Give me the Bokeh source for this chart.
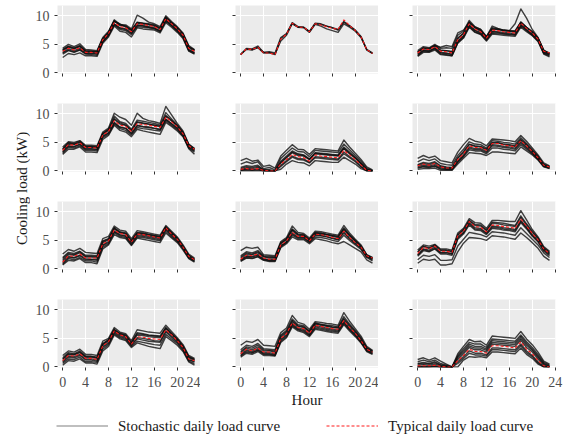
from bokeh.plotting import figure
from bokeh.layouts import row, column
from bokeh.models import Range1d, Label, Legend, LegendItem
from bokeh.embed import file_html
from bokeh.resources import INLINE
import math

hours = list(range(24))
x_ticks = [0, 4, 8, 12, 16, 20, 24]
y_ticks = [0, 5, 10]

# ---- row 1 ----
typ_r1c1 = [3.8,4.3,4.0,4.4,3.6,3.6,3.5,5.8,6.9,8.8,8.1,7.9,7.2,8.6,8.5,8.3,8.1,7.6,9.5,8.6,7.7,6.6,4.3,3.8]
sto_r1c1 = [
    [4.3,5.0,4.6,5.1,4.1,4.0,3.9,6.2,7.3,9.3,8.5,8.4,7.7,10.1,9.6,8.9,8.6,8.1,10.0,9.0,8.1,7.0,4.8,4.1],
    [4.1,4.7,4.4,4.8,3.9,3.8,3.7,6.0,7.1,9.1,8.3,8.2,7.5,8.9,8.7,8.6,8.4,7.9,9.8,8.8,7.9,6.8,4.6,4.0],
    [3.6,4.2,3.9,4.3,3.5,3.5,3.4,5.6,6.7,8.6,7.9,7.7,7.0,8.4,8.3,8.1,7.9,7.4,9.3,8.4,7.5,6.4,4.1,3.6],
    [3.3,3.9,3.6,4.0,3.3,3.2,3.1,5.4,6.5,8.4,7.6,7.4,6.7,8.1,8.0,7.9,7.7,7.2,9.1,8.2,7.3,6.2,3.9,3.4],
    [2.7,3.4,3.2,3.5,3.0,3.0,2.9,5.2,6.3,8.2,7.3,7.1,6.3,7.9,7.7,7.6,7.5,7.0,8.8,8.0,7.1,6.0,3.8,3.3],
    [3.9,4.5,4.2,4.6,3.7,3.7,3.6,5.9,7.0,9.0,8.6,8.0,7.3,8.7,8.6,8.4,8.2,7.7,9.6,8.7,7.8,6.7,4.4,3.9],
    [4.0,4.6,4.3,4.7,3.8,3.8,3.7,6.0,7.1,9.1,8.4,8.2,7.5,8.8,8.7,8.5,8.3,7.8,9.7,8.8,7.9,6.8,4.5,4.0],
    [3.5,4.0,3.7,4.1,3.4,3.4,3.3,5.5,6.6,8.5,7.8,7.6,6.9,8.3,8.2,8.0,7.8,7.3,9.2,8.3,7.4,6.3,4.0,3.5],
]
typ_r1c2 = [3.2,4.2,4.1,4.5,3.5,3.5,3.2,5.9,6.8,8.7,8.0,8.0,7.2,8.6,8.4,8.1,7.8,7.6,9.3,8.3,7.4,6.3,4.1,3.4]
sto_r1c2 = [
    [3.2,4.3,4.2,4.7,3.6,3.7,3.5,6.2,6.9,8.7,8.0,8.0,7.2,8.7,8.6,8.2,7.9,7.5,8.9,8.2,7.4,6.3,4.0,3.4],
    [3.2,4.2,4.0,4.5,3.6,3.6,3.3,5.6,6.6,8.6,8.0,7.9,7.1,8.5,8.2,7.7,7.4,7.1,8.6,8.0,7.3,6.2,4.1,3.4],
    [3.3,4.1,4.1,4.4,3.5,3.5,3.2,6.0,6.8,8.8,8.1,8.0,7.3,8.6,8.5,8.2,7.9,7.6,9.0,8.3,7.5,6.4,4.1,3.5],
]
typ_r1c3 = [3.5,4.2,4.1,4.6,3.8,3.7,3.5,5.8,6.7,8.6,7.7,7.2,6.1,7.5,7.4,7.2,7.1,7.0,8.7,7.8,7.0,5.9,3.8,3.5]
sto_r1c3 = [
    [3.6,4.4,4.3,4.8,4.5,4.8,4.6,7.0,7.5,8.9,8.0,7.6,6.3,8.2,7.8,7.5,7.4,8.6,11.2,9.6,7.6,6.2,4.0,3.4],
    [3.9,4.6,4.4,5.0,4.3,4.4,4.3,6.6,7.3,9.2,8.1,7.6,6.4,7.9,7.7,7.5,7.4,7.4,8.9,8.0,7.2,6.1,3.9,3.3],
    [3.3,4.0,3.9,4.4,3.6,3.5,3.3,5.6,6.5,8.4,7.5,7.1,6.0,7.3,7.2,7.1,7.0,6.8,8.5,7.6,6.8,5.8,3.6,3.2],
    [3.0,3.8,3.7,4.2,3.3,3.2,3.0,5.3,6.2,8.1,7.2,6.8,5.7,7.0,6.9,6.8,6.7,6.6,8.2,7.4,6.6,5.6,3.4,3.0],
    [2.9,3.6,3.6,4.0,3.2,3.1,3.0,5.2,6.1,8.0,7.1,6.7,5.6,6.8,6.7,6.6,6.5,6.4,8.0,7.2,6.5,5.5,3.3,2.8],
    [3.7,4.3,4.2,4.7,3.9,3.9,3.7,6.0,6.9,8.8,7.9,7.3,6.2,7.7,7.6,7.4,7.3,7.2,8.8,7.9,7.1,6.0,3.7,3.4],
    [3.6,4.3,4.2,4.8,4.0,3.9,3.7,6.1,7.0,8.8,7.9,7.4,6.3,7.7,7.6,7.4,7.3,7.2,8.9,8.0,7.2,6.1,3.9,3.5],
    [3.2,3.9,3.8,4.3,3.5,3.4,3.2,5.5,6.4,8.3,7.4,6.9,5.9,7.2,7.1,6.9,6.8,6.7,8.4,7.5,6.7,5.7,3.5,3.1],
]
# ---- row 2 ----
typ_r2c1 = [3.6,4.6,4.5,4.9,4.1,4.1,4.0,6.3,6.9,8.8,8.0,7.8,6.9,8.3,8.1,8.0,7.8,7.6,9.4,8.6,7.7,6.5,4.4,3.8]
sto_r2c1 = [
    [4.2,5.1,5.0,5.3,4.5,4.5,4.4,6.8,7.5,10.1,9.4,9.0,8.0,10.1,9.2,8.8,8.6,8.3,11.3,9.8,8.3,7.0,4.7,3.9],
    [3.9,5.0,4.8,5.2,4.3,4.3,4.2,6.6,7.3,9.6,8.6,8.3,7.3,8.9,8.7,8.5,8.3,8.0,10.2,9.1,8.0,6.8,4.6,3.9],
    [3.4,4.4,4.3,4.7,3.9,3.9,3.8,6.1,6.7,8.5,7.7,7.5,6.6,8.0,7.8,7.7,7.5,7.3,9.1,8.3,7.5,6.3,4.2,3.6],
    [3.1,4.1,4.0,4.4,3.6,3.6,3.5,5.8,6.4,8.2,7.4,7.1,6.3,7.6,7.4,7.3,7.1,7.0,8.8,8.0,7.2,6.1,4.0,3.3],
    [2.9,3.8,3.8,4.2,3.3,3.3,3.2,5.5,6.2,8.0,7.1,6.8,6.0,7.3,7.0,6.8,6.6,6.4,8.5,7.8,7.0,6.0,3.9,2.9],
    [3.8,4.8,4.7,5.0,4.2,4.2,4.1,6.4,7.1,9.2,8.4,8.0,7.0,8.6,8.4,8.2,8.0,7.8,9.7,8.8,7.8,6.6,4.5,3.7],
    [3.7,4.7,4.6,5.0,4.2,4.2,4.1,6.5,7.2,9.0,8.2,8.0,7.1,8.5,8.3,8.2,8.0,7.8,9.6,8.8,7.9,6.7,4.5,3.8],
    [3.3,4.3,4.2,4.6,3.8,3.8,3.7,6.0,6.6,8.4,7.6,7.4,6.5,7.9,7.7,7.6,7.4,7.2,9.0,8.2,7.4,6.2,4.1,3.5],
]
typ_r2c2 = [0.3,0.4,0.3,0.4,0.1,0.0,0.0,1.2,2.0,2.9,2.5,2.3,1.7,2.8,2.6,2.5,2.4,2.3,3.6,2.8,2.0,1.0,0.1,0.0]
sto_r2c2 = [
    [1.8,2.2,1.7,1.9,0.8,1.0,0.5,2.6,3.6,4.6,3.8,3.7,2.9,3.9,3.8,3.7,3.6,3.5,5.4,4.2,3.1,2.0,0.7,0.2],
    [1.2,1.6,1.3,1.6,0.4,0.6,0.2,2.2,3.1,4.0,3.4,3.3,2.5,3.6,3.5,3.4,3.3,3.2,4.7,3.7,2.7,1.7,0.5,0.1],
    [0.6,0.9,0.8,1.0,0.2,0.2,0.0,1.7,2.6,3.5,3.0,2.8,2.1,3.2,3.1,3.0,2.9,2.8,4.2,3.3,2.4,1.4,0.3,0.0],
    [0.1,0.2,0.1,0.2,0.0,0.0,0.0,0.8,1.6,2.4,2.0,1.9,1.4,2.3,2.2,2.1,2.0,1.9,3.0,2.3,1.6,0.7,0.0,0.0],
    [0.0,0.0,0.0,0.0,0.0,0.0,0.0,0.3,1.2,1.8,1.5,1.4,0.9,1.8,1.7,1.6,1.5,1.5,2.4,1.8,1.2,0.4,0.0,0.0],
    [0.2,0.5,0.4,0.6,0.1,0.0,0.0,1.4,2.3,3.2,2.7,2.6,2.0,3.0,2.9,2.8,2.7,2.6,3.9,3.0,2.2,1.2,0.2,0.0],
    [0.4,0.7,0.6,0.8,0.2,0.1,0.0,1.5,2.4,3.3,2.9,2.7,2.0,3.1,3.0,2.9,2.8,2.7,4.0,3.1,2.3,1.3,0.2,0.0],
    [0.1,0.3,0.2,0.3,0.0,0.0,0.0,1.0,1.8,2.6,2.2,2.1,1.5,2.5,2.4,2.3,2.2,2.1,3.3,2.5,1.8,0.8,0.0,0.0],
]
typ_r2c3 = [0.9,1.2,1.0,1.3,0.7,0.5,0.5,2.0,3.0,4.4,4.1,4.1,3.6,4.8,4.8,4.5,4.4,4.2,5.3,4.4,3.4,2.3,1.0,0.7]
sto_r2c3 = [
    [2.2,2.7,2.3,2.6,1.8,1.6,1.4,3.3,4.6,5.7,5.2,5.0,4.4,5.6,5.5,5.4,5.3,5.1,6.2,5.2,4.0,2.8,1.4,0.9],
    [1.6,2.1,1.8,2.1,1.3,1.1,1.0,2.7,3.8,5.1,4.7,4.6,4.0,5.3,5.2,5.0,4.9,4.7,5.8,4.8,3.7,2.6,1.2,0.8],
    [1.1,1.5,1.3,1.6,0.9,0.7,0.6,2.3,3.4,4.7,4.4,4.3,3.8,5.0,5.0,4.7,4.6,4.4,5.5,4.6,3.5,2.4,1.1,0.7],
    [0.6,0.8,0.7,0.9,0.4,0.3,0.3,1.6,2.6,4.0,3.7,3.7,3.2,4.4,4.3,4.1,4.0,3.8,4.9,4.0,3.1,2.1,0.8,0.5],
    [0.3,0.4,0.4,0.5,0.1,0.1,0.1,1.2,2.2,3.2,3.1,3.0,2.7,3.3,3.3,3.2,3.1,3.0,4.2,3.5,2.8,1.9,0.7,0.4],
    [0.8,1.0,0.9,1.1,0.6,0.4,0.4,1.8,2.8,4.2,3.9,3.9,3.4,4.6,4.5,4.3,4.2,4.0,5.1,4.2,3.3,2.2,0.9,0.6],
    [1.0,1.3,1.1,1.4,0.8,0.6,0.5,2.2,3.2,4.6,4.3,4.2,3.7,4.9,4.9,4.6,4.5,4.3,5.4,4.5,3.5,2.4,1.0,0.7],
    [0.5,0.7,0.6,0.8,0.3,0.2,0.2,1.5,2.5,3.7,3.5,3.5,3.0,4.0,4.0,3.8,3.7,3.5,4.6,3.8,3.0,2.0,0.8,0.5],
]
# ---- row 3 ----
typ_r3c1 = [1.2,2.3,2.2,2.6,1.9,1.9,1.9,4.4,4.9,6.8,6.2,6.0,4.7,6.1,6.0,5.8,5.6,5.4,7.2,6.1,5.2,3.8,2.2,1.6]
sto_r3c1 = [
    [2.6,3.4,3.1,3.6,2.9,2.8,2.7,5.3,5.7,7.5,6.8,6.6,5.3,6.7,6.5,6.3,6.1,5.9,7.6,6.6,5.6,4.2,2.6,1.9],
    [2.0,2.9,2.7,3.1,2.4,2.4,2.3,4.9,5.3,7.2,6.5,6.3,5.0,6.4,6.3,6.1,5.9,5.7,7.4,6.4,5.4,4.0,2.4,1.7],
    [1.5,2.5,2.4,2.8,2.1,2.1,2.0,4.6,5.1,7.0,6.3,6.1,4.8,6.2,6.1,5.9,5.7,5.5,7.3,6.2,5.3,3.9,2.3,1.6],
    [1.0,2.0,1.9,2.3,1.6,1.6,1.5,4.1,4.6,6.5,5.9,5.7,4.4,5.8,5.7,5.5,5.3,5.1,6.9,5.8,4.9,3.6,2.0,1.4],
    [0.7,1.5,1.4,1.8,1.1,1.1,0.9,3.5,4.2,6.0,5.5,5.3,4.1,5.4,5.2,5.0,4.8,4.6,6.3,5.4,4.6,3.3,1.8,1.2],
    [1.3,2.2,2.0,2.4,1.8,1.7,1.7,4.2,4.8,6.6,6.0,5.8,4.6,6.0,5.9,5.7,5.5,5.3,7.0,6.0,5.1,3.7,2.1,1.5],
    [1.8,2.7,2.5,3.0,2.2,2.2,2.2,4.8,5.2,7.1,6.4,6.2,4.9,6.3,6.2,6.0,5.8,5.6,7.3,6.3,5.3,3.9,2.3,1.7],
    [0.8,1.8,1.6,2.0,1.4,1.4,1.2,3.8,4.4,6.3,5.7,5.5,4.2,5.6,5.5,5.3,5.1,4.9,6.6,5.6,4.8,3.5,1.9,1.3],
]
typ_r3c2 = [1.7,2.4,2.3,2.6,1.9,1.7,1.7,4.2,4.9,6.4,5.7,5.7,4.9,6.1,6.0,5.8,5.5,5.3,6.6,5.5,4.6,3.8,2.3,1.9]
sto_r3c2 = [
    [3.2,3.8,3.6,3.8,2.5,2.4,2.3,4.8,5.5,7.5,6.4,6.2,5.4,6.6,6.5,6.3,6.1,5.9,7.6,6.3,5.2,4.2,2.5,2.0],
    [2.3,3.0,2.8,3.2,2.3,2.2,2.1,4.6,5.3,7.0,6.1,6.0,5.2,6.4,6.3,6.1,5.9,5.7,7.2,6.0,5.0,4.0,2.4,1.9],
    [1.9,2.6,2.5,2.8,2.1,1.9,1.9,4.4,5.1,6.7,5.9,5.8,5.0,6.2,6.1,6.0,5.7,5.5,6.9,5.8,4.8,3.9,2.3,1.8],
    [1.5,2.2,2.1,2.4,1.7,1.5,1.5,4.0,4.7,6.1,5.5,5.5,4.7,5.9,5.8,5.6,5.3,5.1,6.3,5.3,4.4,3.6,2.1,1.6],
    [1.3,1.9,1.8,2.1,1.5,1.3,1.3,3.7,4.4,5.6,5.1,5.1,4.4,5.3,5.1,4.9,4.6,4.4,4.8,4.2,3.6,3.0,1.6,1.0],
    [1.6,2.3,2.2,2.5,1.8,1.6,1.6,4.1,4.8,6.3,5.6,5.6,4.8,6.0,5.9,5.7,5.4,5.2,6.5,5.4,4.5,3.7,2.2,1.7],
    [2.1,2.8,2.6,3.0,2.2,2.0,2.0,4.5,5.2,6.9,6.0,5.9,5.1,6.3,6.2,6.0,5.8,5.6,7.0,5.9,4.9,3.9,2.4,1.9],
    [1.4,2.0,1.9,2.2,1.6,1.4,1.4,3.9,4.6,5.9,5.3,5.3,4.6,5.6,5.5,5.3,5.0,4.8,5.9,5.0,4.2,3.4,2.0,1.4],
]
typ_r3c3 = [2.7,3.8,3.5,4.0,3.1,3.1,2.9,5.8,6.6,8.3,7.4,7.3,6.5,7.7,7.6,7.4,7.3,7.1,8.7,7.5,6.2,5.1,3.5,2.7]
sto_r3c3 = [
    [3.3,4.2,4.0,4.3,3.5,3.5,3.3,6.3,7.1,8.8,8.1,8.0,7.1,8.5,8.5,8.4,8.3,8.3,10.2,8.6,6.9,5.6,3.9,3.1],
    [3.0,4.0,3.7,4.2,3.3,3.3,3.1,6.0,6.9,8.5,7.8,7.7,6.8,8.2,8.1,8.0,7.8,7.6,9.3,7.9,6.6,5.4,3.7,2.9],
    [2.5,3.5,3.3,3.8,2.9,2.9,2.7,5.6,6.4,8.1,7.2,7.1,6.3,7.5,7.4,7.2,7.1,6.9,8.5,7.3,6.0,5.0,3.4,2.6],
    [2.2,3.2,3.0,3.5,2.6,2.6,2.4,5.2,6.1,7.7,6.8,6.7,6.0,7.1,7.0,6.8,6.7,6.5,8.1,7.0,5.7,4.7,3.1,2.3],
    [1.0,1.7,1.5,1.7,0.7,0.7,0.9,3.0,4.5,5.5,5.4,5.3,5.0,5.8,5.7,5.6,5.4,5.2,6.3,5.5,4.6,3.6,2.2,1.5],
    [1.6,2.4,2.2,2.5,1.5,1.5,1.6,4.0,5.2,6.4,6.2,6.0,5.6,6.5,6.4,6.3,6.1,5.9,7.2,6.2,5.2,4.2,2.8,2.0],
    [2.9,3.9,3.6,4.1,3.2,3.2,3.0,5.9,6.8,8.4,7.6,7.5,6.7,8.0,7.9,7.7,7.6,7.4,9.0,7.7,6.4,5.3,3.6,2.8],
    [2.4,3.4,3.1,3.6,2.8,2.8,2.6,5.4,6.3,7.9,7.0,6.9,6.2,7.3,7.2,7.0,6.9,6.7,8.3,7.2,5.9,4.9,3.3,2.5],
]
# ---- row 4 ----
typ_r4c1 = [1.1,2.0,1.9,2.3,1.5,1.5,1.3,3.7,4.4,6.3,5.6,5.3,4.0,5.3,5.2,5.0,4.9,4.8,6.5,5.6,4.6,3.4,1.4,1.1]
sto_r4c1 = [
    [2.0,2.8,2.6,3.1,2.2,2.2,2.0,4.5,5.0,6.9,6.1,5.8,4.6,6.5,6.3,6.1,6.0,5.9,7.3,6.2,5.1,3.9,2.0,1.5],
    [1.6,2.5,2.3,2.8,1.9,1.9,1.7,4.1,4.8,6.6,5.9,5.6,4.3,6.0,5.8,5.6,5.5,5.4,6.9,5.9,4.9,3.7,1.8,1.3],
    [1.3,2.2,2.1,2.5,1.7,1.7,1.5,3.9,4.6,6.4,5.7,5.4,4.1,5.6,5.5,5.3,5.2,5.1,6.7,5.7,4.7,3.5,1.6,1.2],
    [0.8,1.7,1.6,2.0,1.2,1.2,1.0,3.4,4.1,6.0,5.3,5.0,3.8,4.9,4.7,4.5,4.4,4.3,6.1,5.2,4.3,3.1,1.2,0.9],
    [0.3,1.1,1.0,1.4,0.7,0.7,0.5,2.8,3.6,5.6,4.9,4.6,3.4,4.2,3.9,3.6,3.4,3.2,5.3,4.6,3.8,2.7,0.9,0.3],
    [0.6,1.4,1.3,1.7,0.9,0.9,0.8,3.1,3.9,5.8,5.1,4.8,3.6,4.5,4.3,4.1,3.9,3.8,5.7,4.9,4.1,2.9,1.0,0.6],
    [1.4,2.3,2.2,2.6,1.8,1.8,1.6,4.0,4.7,6.5,5.8,5.5,4.2,5.8,5.7,5.5,5.4,5.3,6.8,5.8,4.8,3.6,1.7,1.3],
    [1.0,1.9,1.8,2.2,1.4,1.4,1.2,3.6,4.3,6.2,5.5,5.2,3.9,5.1,5.0,4.8,4.6,4.5,6.3,5.4,4.5,3.3,1.3,1.0],
]
typ_r4c2 = [2.3,3.1,2.8,3.3,2.6,2.6,2.4,5.0,5.8,7.7,6.9,6.7,5.9,7.3,7.1,6.9,6.7,6.6,8.1,6.9,5.9,4.6,3.1,2.6]
sto_r4c2 = [
    [3.8,4.5,4.3,4.8,3.8,3.7,3.6,6.0,6.8,9.0,7.8,7.5,6.6,7.9,7.8,7.6,7.5,7.3,9.5,8.0,6.7,5.4,3.6,2.9],
    [3.0,3.8,3.6,4.1,3.2,3.1,3.0,5.6,6.4,8.4,7.4,7.2,6.3,7.7,7.5,7.3,7.2,7.0,8.8,7.5,6.4,5.1,3.4,2.8],
    [2.5,3.3,3.0,3.5,2.8,2.8,2.6,5.2,6.0,7.9,7.1,6.9,6.1,7.5,7.3,7.1,6.9,6.8,8.3,7.1,6.1,4.8,3.2,2.7],
    [2.0,2.8,2.5,3.0,2.3,2.3,2.1,4.7,5.5,7.4,6.6,6.4,5.6,7.0,6.8,6.6,6.4,6.3,7.8,6.6,5.6,4.4,2.9,2.4],
    [1.7,2.4,2.2,2.7,2.0,2.0,1.9,4.3,5.1,7.0,6.3,6.0,5.3,6.6,6.4,6.2,6.0,5.9,7.4,6.3,5.3,4.2,2.7,2.2],
    [2.2,3.0,2.7,3.2,2.5,2.5,2.3,4.9,5.7,7.6,6.8,6.6,5.8,7.2,7.0,6.8,6.6,6.5,8.0,6.8,5.8,4.5,3.0,2.5],
    [2.7,3.5,3.3,3.8,3.0,2.9,2.8,5.4,6.2,8.1,7.2,7.0,6.2,7.6,7.4,7.2,7.0,6.9,8.5,7.3,6.2,4.9,3.3,2.7],
    [1.9,2.6,2.4,2.9,2.2,2.2,2.0,4.5,5.3,7.2,6.5,6.2,5.5,6.8,6.6,6.4,6.2,6.1,7.6,6.5,5.5,4.3,2.8,2.3],
]
typ_r4c3 = [0.2,0.2,0.2,0.3,0.1,0.0,0.0,1.1,2.0,3.1,2.7,2.7,2.4,3.7,3.7,3.6,3.5,3.3,4.4,3.1,2.3,1.1,0.2,0.0]
sto_r4c3 = [
    [1.3,1.6,1.2,1.6,1.0,0.5,0.0,2.3,3.6,4.8,4.4,4.5,3.8,5.4,5.3,5.2,5.1,5.0,6.2,4.9,3.9,2.6,1.0,0.5],
    [0.9,1.2,0.9,1.2,0.6,0.3,0.0,2.0,3.2,4.3,4.0,4.0,3.4,4.9,4.8,4.7,4.6,4.5,5.6,4.4,3.4,2.2,0.8,0.3],
    [0.5,0.6,0.5,0.7,0.3,0.1,0.0,1.6,2.6,3.7,3.3,3.3,2.9,4.3,4.2,4.1,4.0,3.9,5.0,3.8,2.9,1.7,0.5,0.1],
    [0.1,0.1,0.1,0.2,0.0,0.0,0.0,0.9,1.8,2.8,2.4,2.4,2.1,3.3,3.3,3.2,3.1,3.0,4.0,2.8,2.0,0.9,0.1,0.0],
    [0.0,0.0,0.0,0.0,0.0,0.0,0.0,0.0,1.2,1.8,1.7,1.8,1.6,2.6,2.6,2.5,2.4,2.3,3.3,2.2,1.5,0.5,0.0,0.0],
    [0.3,0.4,0.3,0.5,0.2,0.0,0.0,1.3,2.3,3.4,3.0,3.0,2.6,4.0,3.9,3.8,3.7,3.6,4.7,3.4,2.6,1.4,0.3,0.0],
    [0.6,0.8,0.6,0.9,0.4,0.2,0.0,1.8,2.9,4.0,3.6,3.6,3.1,4.6,4.5,4.4,4.3,4.2,5.3,4.1,3.1,1.9,0.6,0.2],
    [0.0,0.0,0.0,0.1,0.0,0.0,0.0,0.6,1.5,2.4,2.1,2.1,1.9,3.0,3.0,2.9,2.8,2.7,3.7,2.5,1.8,0.7,0.0,0.0],
]

panels = [
    [(typ_r1c1, sto_r1c1), (typ_r1c2, sto_r1c2), (typ_r1c3, sto_r1c3)],
    [(typ_r2c1, sto_r2c1), (typ_r2c2, sto_r2c2), (typ_r2c3, sto_r2c3)],
    [(typ_r3c1, sto_r3c1), (typ_r3c2, sto_r3c2), (typ_r3c3, sto_r3c3)],
    [(typ_r4c1, sto_r4c1), (typ_r4c2, sto_r4c2), (typ_r4c3, sto_r4c3)],
]

FONT = "Liberation Serif"
FRAME_W, FRAME_H = 143, 68
LEFTS = [27, 35, 34]
RIGHTS = [0, 0, 8]
TOP = 5
BOTTOM_INNER = 25
BOTTOM_LAST = 47
YLAB_W = 30


def make_panel(r, c, typ, sto):
    bottom = BOTTOM_LAST if r == 3 else BOTTOM_INNER
    p = figure(frame_width=FRAME_W, frame_height=FRAME_H,
               x_range=Range1d(-0.9, 24.05), y_range=Range1d(-0.1, 11.8),
               toolbar_location=None, output_backend="svg",
               min_border_left=LEFTS[c], min_border_right=RIGHTS[c],
               min_border_top=TOP, min_border_bottom=bottom,
               background_fill_color="#EBEBEB", border_fill_color="white",
               outline_line_color=None)
    p.xaxis.ticker = x_ticks
    p.yaxis.ticker = y_ticks
    p.xgrid.ticker = x_ticks
    p.ygrid.ticker = y_ticks
    p.grid.grid_line_color = "white"
    p.grid.grid_line_width = 1.1
    for ax in (p.xaxis[0], p.yaxis[0]):
        ax.axis_line_color = None
        ax.major_tick_line_color = "#333333"
        ax.major_tick_line_width = 1
        ax.major_tick_out = 3
        ax.major_tick_in = 0
        ax.minor_tick_line_color = None
        ax.major_label_text_font = FONT
        ax.major_label_text_font_size = "14px"
        ax.major_label_text_color = "#4D4D4D"
    p.xaxis.major_label_standoff = 6
    p.yaxis.major_label_standoff = 5
    if c != 0:
        p.yaxis.major_label_overrides = {t: "" for t in y_ticks}
    if r != 3:
        p.xaxis.major_label_overrides = {t: "" for t in x_ticks}
    if r == 3 and c == 1:
        p.xaxis.axis_label = "Hour"
        p.xaxis.axis_label_text_font = FONT
        p.xaxis.axis_label_text_font_size = "15px"
        p.xaxis.axis_label_text_font_style = "normal"
        p.xaxis.axis_label_text_color = "#1a1a1a"
        p.xaxis.axis_label_standoff = 2
    p.multi_line(xs=[hours] * len(sto), ys=sto, line_color="#0d0d0d",
                 line_alpha=0.78, line_width=1.4, line_join="round")
    p.line(hours, typ, line_color="#FF1A1A", line_width=1.1, line_dash="3 2")
    return p


rows = []
for r in range(4):
    figs = [make_panel(r, c, panels[r][c][0], panels[r][c][1]) for c in range(3)]
    rows.append(row(*figs))
grid = column(*rows)

GRID_H = 3 * (TOP + FRAME_H + BOTTOM_INNER) + (TOP + FRAME_H + BOTTOM_LAST)

ylab = figure(frame_width=YLAB_W, frame_height=GRID_H, x_range=Range1d(0, 1),
              y_range=Range1d(0, 1), toolbar_location=None, output_backend="svg",
              min_border=0, outline_line_color=None,
              x_axis_location=None, y_axis_location=None)
ylab.grid.visible = False
ylab.add_layout(Label(x=0.7, y=0.546, text="Cooling load (kW)", angle=math.pi / 2,
                      text_align="center", text_baseline="middle",
                      text_font=FONT, text_font_size="15px", text_color="#1a1a1a"))

legend_names = ["Stochastic daily load curve", "Typical daily load curve"]
leg = figure(frame_width=563 - 56, frame_height=23, x_range=Range1d(0, 1),
             y_range=Range1d(0, 1), toolbar_location=None, output_backend="svg",
             min_border=0, min_border_left=56, outline_line_color=None,
             x_axis_location=None, y_axis_location=None)
leg.grid.visible = False
r1 = leg.line([-5, -4], [-5, -5], line_color="black", line_alpha=0.5, line_width=1)
r2 = leg.line([-5, -4], [-5, -5], line_color="#FF1A1A", line_width=1, line_dash="3 2")
legend = Legend(items=[LegendItem(label=legend_names[0], renderers=[r1]),
                       LegendItem(label=legend_names[1], renderers=[r2])],
                orientation="horizontal", location="left",
                glyph_width=52, glyph_height=16, label_height=16,
                label_standoff=10, spacing=46, padding=0, margin=0,
                border_line_color=None, background_fill_alpha=0,
                label_text_font=FONT, label_text_font_size="15px",
                label_text_color="#1a1a1a")
leg.add_layout(legend, "center")

page = column(row(ylab, grid), leg)

open("out.html", "w").write(file_html(page, INLINE))
